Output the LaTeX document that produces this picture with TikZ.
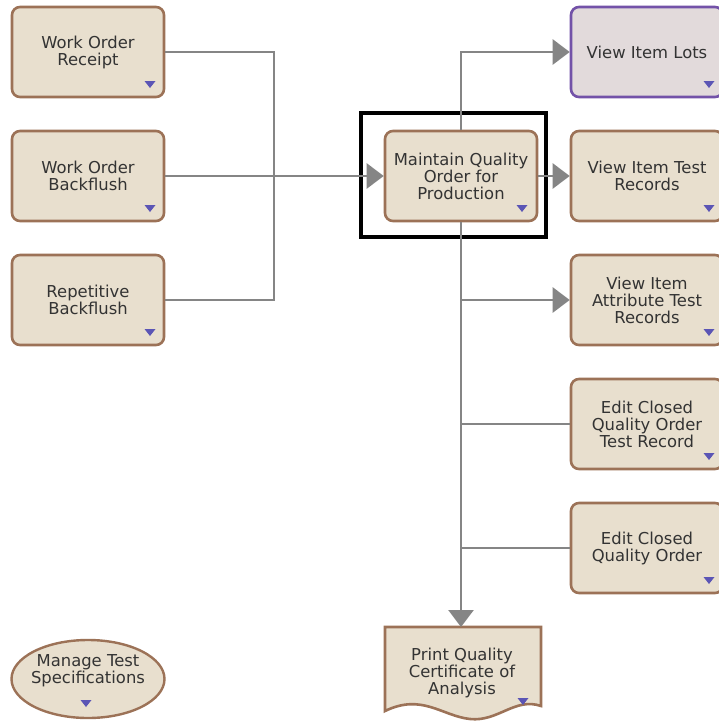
\documentclass[tikz,border=0pt]{standalone}
\usepackage{fontspec}
\setmainfont{DejaVu Sans}
\usetikzlibrary{arrows.meta,shapes.geometric}
\definecolor{boxfill}{HTML}{E8DFCE}
\definecolor{boxedge}{HTML}{9C7257}
\definecolor{lotfill}{HTML}{E2DADB}
\definecolor{lotedge}{HTML}{7352A8}
\definecolor{linkgray}{HTML}{858585}
\definecolor{markblue}{HTML}{5B55B5}
\definecolor{txt}{HTML}{333333}
\tikzset{
  label/.style={align=center, text=txt, font=\fontsize{16.4}{17}\selectfont},
  task/.style={label, draw=boxedge, fill=boxfill, line width=2.6pt, rounded corners=8pt,
    minimum width=152pt, minimum height=90pt, inner sep=0pt},
  lots/.style={task, draw=lotedge, fill=lotfill},
  link/.style={draw=linkgray, line width=2.6pt},
  arr/.style={link, -{Triangle[length=17pt,width=25pt]}},
}
\begin{document}
\begin{tikzpicture}[x=1pt,y=-1pt]
\useasboundingbox (0,0) rectangle (718,723);
\fill[white] (0,0) rectangle (718,723);

% left column
\node[task] (wor) at (88,52) {Work Order\\Receipt};
\node[task] (wob) at (88,176) {Work Order\\Backflush};
\node[task] (rep) at (88,300) {Repetitive\\Backflush};
\node[draw=boxedge, fill=boxfill, line width=2.4pt, ellipse, minimum width=153pt,
  minimum height=78pt, inner sep=0pt] (mts) at (88,679) {};
\node[label] (mtstext) at (88,671) {Manage Test\\Specifications};

% centre
\node[task] (mqo) at (461,176) {Maintain Quality\\Order for\\Production};
\draw[line width=4pt] (361,113) rectangle (546,237);

% right column
\node[lots] (lot) at (647,52) {View Item Lots};
\node[task] (vtr) at (647,176) {View Item Test\\Records};
\node[task] (atr) at (647,300) {View Item\\Attribute Test\\Records};
\node[task] (ect) at (647,424) {Edit Closed\\Quality Order\\Test Record};
\node[task] (ecq) at (647,548) {Edit Closed\\Quality Order};

% printed document
\draw[draw=boxedge, fill=boxfill, line width=2.6pt]
  (385,627) -- (541,627) -- (541,706)
  .. controls (515,697) and (498,722) .. (470,719)
  .. controls (442,716) and (422,693) .. (385,711) -- cycle;
\node[label] (pqc) at (462,673) {Print Quality\\Certificate of\\Analysis};
\coordinate (pqctop) at (461,627);

% connectors
\coordinate (j1) at (274,300);
\coordinate (b1) at (461,300);
\coordinate (b2) at (461,424);
\coordinate (b3) at (461,548);
\draw[link] (wor.east) -| (j1) -- (rep.east);
\draw[arr] (wob.east) -- (mqo.west);
\draw[arr] (mqo.east) -- (vtr.west);
\draw[arr] (mqo.north) |- (lot.west);
\draw[arr] (mqo.south) -- (pqctop);
\draw[arr] (b1) -- (atr.west);
\draw[link] (b2) -- (ect.west);
\draw[link] (b3) -- (ecq.west);

% drop-down markers (tip at the given point)
\foreach \mx/\my in {150/88,150/212,150/336,522/212,709/88,709/212,709/336,709/460,709/584,523/705,86/707}
  { \fill[markblue] (\mx-5.5,\my-7) -- (\mx+5.5,\my-7) -- (\mx,\my) -- cycle; }
\end{tikzpicture}
\end{document}
